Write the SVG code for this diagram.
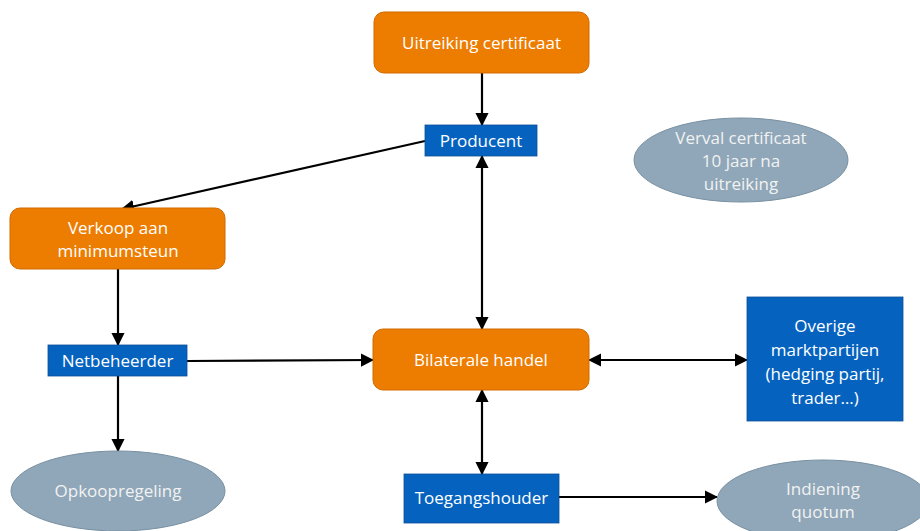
<svg xmlns="http://www.w3.org/2000/svg" width="920" height="531" viewBox="0 0 920 531">
<style>
.o{fill:#ED7D00;stroke:#D06A00;stroke-width:1}
.b{fill:#0563BF;stroke:#0A4F95;stroke-width:0.8}
.e{fill:#8FA7B8;stroke:#7890A2;stroke-width:1}
.t{font-family:"Open Sans","Liberation Sans",sans-serif;font-size:17px;fill:#FFFFFF;text-anchor:middle}
.te{font-family:"Open Sans","Liberation Sans",sans-serif;font-size:17px;fill:#F2F2F2;text-anchor:middle}
.c{stroke:#000;stroke-width:2.2;fill:none}
</style>
<defs>
<marker id="ah" viewBox="0 0 12 12" refX="11" refY="6" markerWidth="6" markerHeight="6" orient="auto-start-reverse" markerUnits="strokeWidth">
<path d="M0,0 L12,6 L0,12 Z" fill="#000"/>
</marker>
</defs>
<g id="connectors">
<line class="c" x1="482" y1="73" x2="482" y2="125" marker-end="url(#ah)"/>
<line class="c" x1="425" y1="141" x2="122" y2="209" marker-end="url(#ah)"/>
<line class="c" x1="118" y1="269" x2="118" y2="345" marker-end="url(#ah)"/>
<line class="c" x1="118" y1="376" x2="118" y2="451" marker-end="url(#ah)"/>
<line class="c" x1="187" y1="361" x2="373" y2="360" marker-end="url(#ah)"/>
<line class="c" x1="482" y1="156" x2="482" y2="329" marker-start="url(#ah)" marker-end="url(#ah)"/>
<line class="c" x1="482" y1="390" x2="482" y2="474" marker-start="url(#ah)" marker-end="url(#ah)"/>
<line class="c" x1="589" y1="360" x2="747" y2="360" marker-start="url(#ah)" marker-end="url(#ah)"/>
<line class="c" x1="559" y1="497" x2="717" y2="497" marker-end="url(#ah)"/>
</g>
<g id="uitreiking">
<rect class="o" x="374" y="12" width="215" height="61" rx="10"/>
<text class="t" x="481.5" y="49">Uitreiking certificaat</text>
</g>
<g id="producent">
<rect class="b" x="425" y="125" width="112" height="31"/>
<text class="t" x="481" y="147">Producent</text>
</g>
<g id="verval">
<ellipse class="e" cx="741" cy="160" rx="107" ry="42"/>
<text class="te" x="741" y="144">Verval certificaat</text>
<text class="te" x="741" y="167">10 jaar na</text>
<text class="te" x="741" y="190">uitreiking</text>
</g>
<g id="verkoop">
<rect class="o" x="10" y="208" width="215" height="61" rx="10"/>
<text class="t" x="118" y="234">Verkoop aan</text>
<text class="t" x="118" y="257">minimumsteun</text>
</g>
<g id="netbeheerder">
<rect class="b" x="48" y="345" width="139" height="31"/>
<text class="t" x="117.5" y="367">Netbeheerder</text>
</g>
<g id="bilaterale">
<rect class="o" x="373" y="329" width="216" height="61" rx="10"/>
<text class="t" x="481" y="366">Bilaterale handel</text>
</g>
<g id="overige">
<rect class="b" x="747" y="297" width="156" height="124"/>
<text class="t" x="825" y="332">Overige</text>
<text class="t" x="825" y="356">marktpartijen</text>
<text class="t" x="825" y="380">(hedging partij,</text>
<text class="t" x="825" y="404">trader…)</text>
</g>
<g id="opkoopregeling">
<ellipse class="e" cx="118" cy="491" rx="107" ry="40"/>
<text class="te" x="118" y="497">Opkoopregeling</text>
</g>
<g id="toegangshouder">
<rect class="b" x="404" y="474" width="155" height="49"/>
<text class="t" x="481.5" y="504">Toegangshouder</text>
</g>
<g id="indiening">
<ellipse class="e" cx="823" cy="501" rx="106" ry="41"/>
<text class="te" x="823" y="495">Indiening</text>
<text class="te" x="823" y="518">quotum</text>
</g>
</svg>
